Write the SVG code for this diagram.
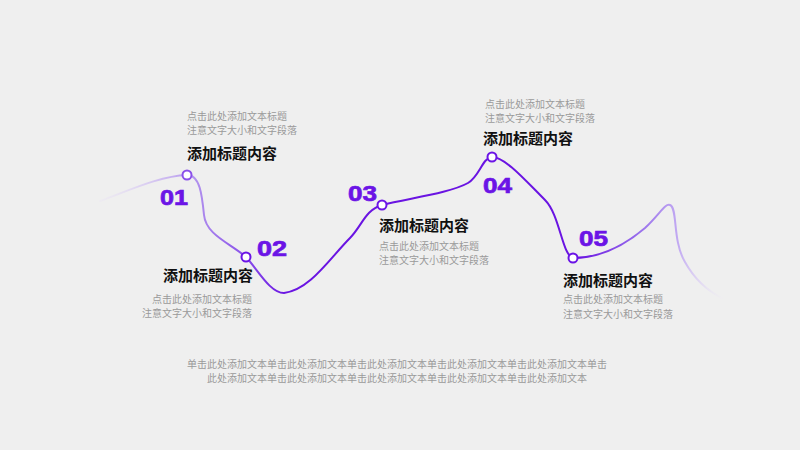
<svg xmlns="http://www.w3.org/2000/svg" width="800" height="450" viewBox="0 0 800 450">
<defs>
<linearGradient id="lg" gradientUnits="userSpaceOnUse" x1="100" y1="0" x2="722" y2="0">
<stop offset="0" stop-color="#e6dcf7" stop-opacity="0.2"/>
<stop offset="0.14" stop-color="#b89cee"/>
<stop offset="0.23" stop-color="#8a52ea"/>
<stop offset="0.3" stop-color="#6a14e2"/>
<stop offset="0.77" stop-color="#6a14e2"/>
<stop offset="0.87" stop-color="#9a72ec"/>
<stop offset="0.93" stop-color="#c2aaf2"/>
<stop offset="1" stop-color="#ece6f7" stop-opacity="0.1"/>
</linearGradient>
<style>
.num{font-family:"Liberation Sans",Arial,sans-serif;font-weight:bold;font-size:22px;fill:#6b14e6;stroke:#6b14e6;stroke-width:0.7px}
.tt{font-family:"Noto Sans CJK SC","Liberation Sans",sans-serif;font-weight:bold;font-size:15px;fill:#111}
.sm{font-family:"Noto Sans CJK SC","Liberation Sans",sans-serif;font-size:10px;fill:#9a9a9a}
.dot{fill:#fff;stroke:#6b14e6;stroke-width:2}
</style>
</defs>
<rect width="800" height="450" fill="#efefef"/>
<g id="connectors">
<path fill="none" stroke="url(#lg)" stroke-width="2" stroke-linecap="round" d="M100,201 C130,190 160,176 187,175 C200,175 202,195 204,215 C206,235 230,243 246,257 C258,270 270,293 284,293 C310,290 330,258 350,238 C362,226 365,210 382,205 C410,198 450,193 468,183 C480,176 482,158 492,157 C505,157 525,180 545,200 C560,215 562,255 573,258 C600,258 625,245 645,228 C660,214 665,203 670,205 C678,208 672,240 685,262 C695,280 710,292 722,298"/>
</g>
<g id="node1">
<circle class="dot" cx="187" cy="175" r="4.5" style="stroke:#8a50ea"/>
<text class="num" x="160" y="205" textLength="28" lengthAdjust="spacingAndGlyphs">01</text>
<text class="tt" x="187" y="159">添加标题内容</text>
<text class="sm" x="187" y="120">点击此处添加文本标题</text>
<text class="sm" x="187" y="134">注意文字大小和文字段落</text>
</g>
<g id="node2">
<circle class="dot" cx="246" cy="257" r="4.5"/>
<text class="num" x="257" y="255.5" textLength="30" lengthAdjust="spacingAndGlyphs">02</text>
<text class="tt" x="253" y="281" text-anchor="end">添加标题内容</text>
<text class="sm" x="252" y="303" text-anchor="end">点击此处添加文本标题</text>
<text class="sm" x="252" y="317" text-anchor="end">注意文字大小和文字段落</text>
</g>
<g id="node3">
<circle class="dot" cx="382" cy="205" r="4.5"/>
<text class="num" x="348" y="200.5" textLength="29" lengthAdjust="spacingAndGlyphs">03</text>
<text class="tt" x="379" y="231">添加标题内容</text>
<text class="sm" x="379" y="250">点击此处添加文本标题</text>
<text class="sm" x="379" y="264">注意文字大小和文字段落</text>
</g>
<g id="node4">
<circle class="dot" cx="492" cy="157" r="4.5"/>
<text class="num" x="483" y="192.5" textLength="29" lengthAdjust="spacingAndGlyphs">04</text>
<text class="tt" x="483" y="144">添加标题内容</text>
<text class="sm" x="485" y="108">点击此处添加文本标题</text>
<text class="sm" x="485" y="122">注意文字大小和文字段落</text>
</g>
<g id="node5">
<circle class="dot" cx="573" cy="258" r="4.5"/>
<text class="num" x="579" y="245.5" textLength="29" lengthAdjust="spacingAndGlyphs">05</text>
<text class="tt" x="563" y="286">添加标题内容</text>
<text class="sm" x="563" y="303">点击此处添加文本标题</text>
<text class="sm" x="563" y="318">注意文字大小和文字段落</text>
</g>
<g id="footer">
<text class="sm" x="397" y="368" text-anchor="middle">单击此处添加文本单击此处添加文本单击此处添加文本单击此处添加文本单击此处添加文本单击</text>
<text class="sm" x="397" y="382" text-anchor="middle">此处添加文本单击此处添加文本单击此处添加文本单击此处添加文本单击此处添加文本</text>
</g>
</svg>
